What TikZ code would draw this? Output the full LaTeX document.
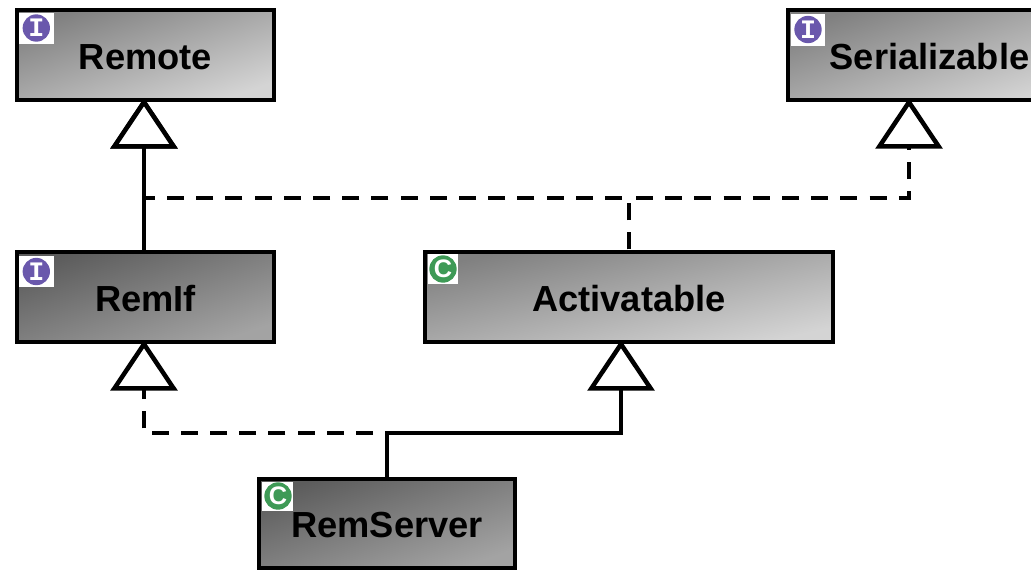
\documentclass[tikz,border=0pt]{standalone}
\usepackage{fontspec}
\setmainfont{Liberation Sans}
\newfontfamily\iconmono{Liberation Mono}
\usetikzlibrary{arrows.meta}
\definecolor{iconI}{HTML}{6A58AC}
\definecolor{iconC}{HTML}{3E9A56}
\newcommand{\lowtext}[1]{\raisebox{-1.5pt}[\height][\depth]{#1}}
\pgfdeclarehorizontalshading{lightdiag}{100bp}{gray(0bp)=(0.50); gray(25bp)=(0.50); gray(75bp)=(0.83); gray(100bp)=(0.83)}
\pgfdeclarehorizontalshading{darkdiag}{100bp}{gray(0bp)=(0.36); gray(25bp)=(0.36); gray(75bp)=(0.64); gray(100bp)=(0.64)}
\tikzset{
  x=0.75pt,y=-0.75pt,
  px/.style={line width=#1*0.75pt},
  umlbox/.style={draw=black,px=4.6,line join=miter,inner sep=0pt,outer sep=0pt,
    font=\bfseries\fontsize{27.2}{30}\selectfont,text=black,shading angle=-71,anchor=center},
  lightbox/.style={umlbox,shading=lightdiag},
  darkbox/.style={umlbox,shading=darkdiag},
  iconbg/.style={fill=white,draw=none,inner sep=0pt,outer sep=0pt},
  badge/.style={circle,inner sep=0pt,outer sep=0pt,minimum size=20.5pt,text=white,draw=none},
  ibadge/.style={badge,fill=iconI,font=\iconmono\bfseries\fontsize{20}{20}\selectfont},
  cbadge/.style={badge,fill=iconC,font=\bfseries\fontsize{19}{19}\selectfont},
  conn/.style={draw=black,px=4.6,line join=miter,shorten >=-1.5pt,
    -{Triangle[open,fill=white,length=38pt,width=50pt,line width=3.4pt]}},
  solidconn/.style={conn},
  dashconn/.style={conn,dash pattern=on 12.75pt off 9.15pt,dash phase=#1},
}
\begin{document}
\begin{tikzpicture}
\useasboundingbox (0,0) rectangle (1031,569);
\clip (0,0) rectangle (1031,569);
\node[lightbox,minimum width=192.75pt,minimum height=67.5pt] (remote) at (145.5,55) {\lowtext{Remote}};
\node[lightbox,minimum width=212.25pt,minimum height=67.5pt] (serial) at (929.5,55) {\lowtext{Serializable}};
\node[darkbox,minimum width=192.75pt,minimum height=67.5pt] (remif) at (145.5,297) {\lowtext{RemIf}};
\node[lightbox,shading angle=-77,minimum width=306pt,minimum height=67.5pt] (activ) at (629,297) {\lowtext{Activatable}};
\node[darkbox,minimum width=192pt,minimum height=66.75pt] (server) at (387,523.5) {\lowtext{RemServer}};
% bend coordinates
\coordinate (busU) at (144,198);
\coordinate (busS) at (909,198);
\coordinate (busL) at (144,433);
\coordinate (busA) at (621,433);
% connectors
\draw[dashconn=19.95pt] (activ.north) |- (busU) -- ([xshift=-1.125pt]remote.south);
\draw[dashconn=19.95pt] (activ.north) |- (busS) -- ([xshift=-15.375pt]serial.south);
\draw[solidconn] ([xshift=-1.125pt]remif.north) -- ([xshift=-1.125pt]remote.south);
\draw[dashconn=20.7pt] (server.north) |- (busL) -- ([xshift=-1.125pt]remif.south);
\draw[solidconn] (server.north) |- (busA) -- ([xshift=-6pt]activ.south);
% icons
\node[iconbg,minimum width=26.25pt,minimum height=23.25pt] (bgA) at (36.5,28.5) {};
\node[ibadge] (icA) at (36.3,28) {I};
\node[iconbg,minimum width=25.5pt,minimum height=24pt] (bgB) at (808,30) {};
\node[ibadge] (icB) at (808,29.5) {I};
\node[iconbg,minimum width=26.25pt,minimum height=23.25pt] (bgC) at (36.5,271.5) {};
\node[ibadge] (icC) at (36.3,271.5) {I};
\node[iconbg,minimum width=22.5pt,minimum height=22.5pt] (bgD) at (443,269) {};
\node[cbadge] (icD) at (443,269) {C};
\node[iconbg,minimum width=23.25pt,minimum height=22pt] (bgE) at (277.5,496.5) {};
\node[cbadge] (icE) at (278,496) {C};
\end{tikzpicture}
\end{document}
